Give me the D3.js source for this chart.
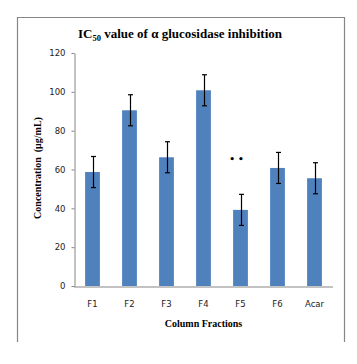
<!DOCTYPE html>
<html>
<head>
<meta charset="utf-8">
<script src="https://d3js.org/d3.v7.min.js"></script>
<style>
html,body{margin:0;padding:0;background:#fff;}
svg{display:block;}
</style>
</head>
<body>
<svg id="chart" width="357" height="364"></svg>
<script>
const categories = ["F1","F2","F3","F4","F5","F6","Acar"];
const values = [58.7, 90.5, 66.3, 100.8, 39.2, 60.8, 55.5];
const errors = [8, 8, 8, 8, 8, 8, 8];
const marks = ["", "", "", "", "• •", "", ""];
const yTicks = [0, 20, 40, 60, 80, 100, 120];

const svg = d3.select("#chart");

// outer frame (open at bottom, as cropped in reference)
svg.append("path")
  .attr("d", "M17.5,342 V17.5 H344.5 V342")
  .attr("fill", "none").attr("stroke", "#868686").attr("stroke-width", 1.2);

const x = d3.scaleBand().domain(categories).range([74, 333]).paddingInner(0.6).paddingOuter(0.3);
const y = d3.scaleLinear().domain([0, 120]).range([286, 53]);

// y axis
const yAxis = d3.axisLeft(y).tickValues(yTicks).tickSize(3).tickSizeOuter(0).tickPadding(6);
const gy = svg.append("g").attr("transform", "translate(74.5,0)").call(yAxis);
gy.select(".domain").attr("stroke", "#868686");
gy.selectAll(".tick line").attr("stroke", "#868686");
gy.selectAll(".tick text").attr("font-family", "DejaVu Sans").attr("font-size", "8.5px").attr("fill", "#222");

// bars
svg.append("g").selectAll("rect").data(categories).join("rect")
  .attr("x", d => x(d))
  .attr("width", x.bandwidth())
  .attr("y", (d, i) => y(values[i]))
  .attr("height", (d, i) => y(0) - y(values[i]))
  .attr("fill", "#4F81BD");

// x axis
const xAxis = d3.axisBottom(x).tickSize(0).tickPadding(14);
const gx = svg.append("g").attr("transform", "translate(0,286.5)").call(xAxis);
gx.select(".domain").attr("stroke", "#868686").attr("d", "M74,0.5H333");
gx.selectAll(".tick text").attr("font-family", "DejaVu Sans").attr("font-size", "8.5px").attr("fill", "#222");

// error bars
const eg = svg.append("g").attr("stroke", "#000").attr("stroke-width", 1.2);
categories.forEach((c, i) => {
  const cx = Math.round(x(c) + x.bandwidth() / 2) + 0.5;
  const y1 = y(values[i] + errors[i]), y2 = y(values[i] - errors[i]);
  eg.append("line").attr("x1", cx).attr("x2", cx).attr("y1", y1).attr("y2", y2);
  eg.append("line").attr("x1", cx - 2.5).attr("x2", cx + 2.5).attr("y1", y1).attr("y2", y1);
  eg.append("line").attr("x1", cx - 2.5).attr("x2", cx + 2.5).attr("y1", y2).attr("y2", y2);
});

// significance marks
svg.append("g").selectAll("text").data(categories).join("text")
  .attr("x", d => x(d) + x.bandwidth() / 2 - 4)
  .attr("y", (d, i) => y(values[i] + errors[i]) - 32)
  .attr("text-anchor", "middle")
  .attr("font-family", "DejaVu Sans").attr("font-size", "9px").attr("font-weight", "bold")
  .attr("fill", "#000")
  .text((d, i) => marks[i]);

// title
const title = svg.append("text")
  .attr("x", 180).attr("y", 37.5).attr("text-anchor", "middle")
  .attr("font-family", "Liberation Serif").attr("font-weight", "bold").attr("font-size", "13px")
  .attr("fill", "#000");
title.append("tspan").text("IC");
title.append("tspan").attr("font-size", "8.5px").attr("dy", 3).text("50");
title.append("tspan").attr("dy", -3).text(" value of α glucosidase inhibition");

// y axis title
svg.append("text")
  .attr("transform", "translate(40.5,168) rotate(-90)")
  .attr("text-anchor", "middle")
  .attr("font-family", "Liberation Serif").attr("font-weight", "bold").attr("font-size", "10px")
  .attr("fill", "#000")
  .attr("xml:space", "preserve")
  .text("Concentration  (μg/mL)");

// x axis title
svg.append("text")
  .attr("x", 203.5).attr("y", 327).attr("text-anchor", "middle")
  .attr("font-family", "Liberation Serif").attr("font-weight", "bold").attr("font-size", "10px")
  .attr("fill", "#000")
  .text("Column Fractions");
</script>
</body>
</html>
